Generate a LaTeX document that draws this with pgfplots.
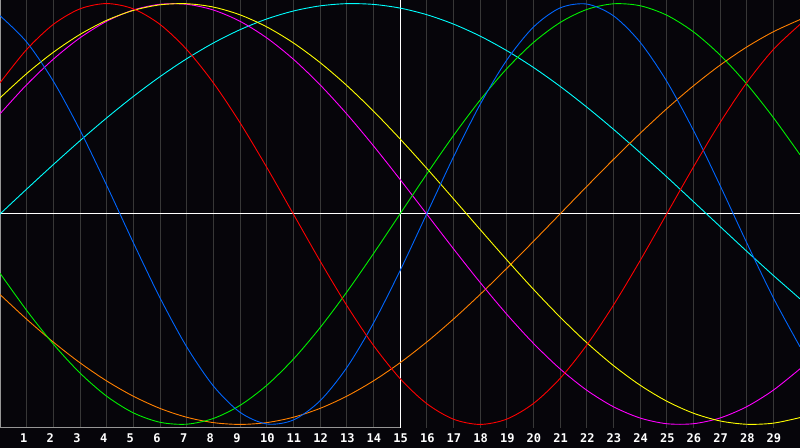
\documentclass[border=0pt]{standalone}
\usepackage{pgfplots}
\usepackage{pgfplotstable}
\pgfplotsset{compat=1.18}
\usepackage{fontspec}
\newfontfamily\labelfont{DejaVu Sans Mono}
\definecolor{bgc}{RGB}{6,5,10}
\definecolor{gridc}{RGB}{55,55,55}
\definecolor{borderc}{RGB}{150,150,150}
\definecolor{cred}{RGB}{255,0,0}
\definecolor{cblue}{RGB}{0,102,255}
\definecolor{cgreen}{RGB}{0,240,0}
\definecolor{ccyan}{RGB}{0,255,255}
\definecolor{cyel}{RGB}{255,255,0}
\definecolor{cmag}{RGB}{255,0,255}
\definecolor{corange}{RGB}{255,128,0}
\pgfplotstableread{
d   red      blue     green    mag      yel      ora      cyan
0   0.6235   0.9423  -0.2817   0.4759   0.5517  -0.3827   0
1   0.7818   0.8170  -0.4582   0.6142   0.6673  -0.5000   0.1183
2   0.9010   0.6311  -0.6182   0.7357   0.7686  -0.6088   0.2349
3   0.9749   0.3984  -0.7557   0.8372   0.8533  -0.7071   0.3482
4   1.0000   0.1362  -0.8660   0.9158   0.9204  -0.7934   0.4566
5   0.9749  -0.1362  -0.9450   0.9694   0.9675  -0.8660   0.5586
6   0.9010  -0.3984  -0.9898   0.9966   0.9940  -0.9239   0.6528
7   0.7818  -0.6311  -0.9989   0.9966   0.9993  -0.9659   0.7378
8   0.6235  -0.8170  -0.9718   0.9694   0.9834  -0.9914   0.8126
9   0.4339  -0.9423  -0.9096   0.9158   0.9465  -1.0000   0.8758
10  0.2225  -0.9977  -0.8146   0.8372   0.8894  -0.9914   0.9267
11  0       -0.9791  -0.6901   0.7357   0.8133  -0.9659   0.9646
12 -0.2225  -0.8879  -0.5406   0.6142   0.7199  -0.9239   0.9890
13 -0.4339  -0.7308  -0.3717   0.4759   0.6112  -0.8660   0.9996
14 -0.6235  -0.5196  -0.1893   0.3247   0.4894  -0.7934   0.9961
15 -0.7818  -0.2698   0        0.1646   0.3572  -0.7071   0.9786
16 -0.9010   0        0.1893   0        0.2174  -0.6088   0.9473
17 -0.9749   0.2698   0.3717  -0.1646   0.0730  -0.5000   0.9028
18 -1.0000   0.5196   0.5406  -0.3247  -0.0730  -0.3827   0.8457
19 -0.9749   0.7308   0.6901  -0.4759  -0.2174  -0.2588   0.7766
20 -0.9010   0.8879   0.8146  -0.6142  -0.3572  -0.1305   0.6967
21 -0.7818   0.9791   0.9096  -0.7357  -0.4894   0        0.6069
22 -0.6235   0.9977   0.9718  -0.8372  -0.6112   0.1305   0.5084
23 -0.4339   0.9423   0.9989  -0.9158  -0.7199   0.2588   0.4031
24 -0.2225   0.8170   0.9898  -0.9694  -0.8133   0.3827   0.2920
25  0        0.6311   0.9450  -0.9966  -0.8894   0.5000   0.1769
26  0.2225   0.3984   0.8660  -0.9966  -0.9465   0.6088   0.0592
27  0.4339   0.1362   0.7557  -0.9694  -0.9834   0.7071  -0.0592
28  0.6235  -0.1362   0.6182  -0.9158  -0.9993   0.7934  -0.1769
29  0.7818  -0.3984   0.4582  -0.8372  -0.9940   0.8660  -0.2920
30  0.9010  -0.6311   0.2817  -0.7357  -0.9675   0.9239  -0.4031
}\bio
\begin{document}
\begin{tikzpicture}
\fill[bgc] (0,0) rectangle (800bp,448bp);
\begin{axis}[
  at={(0bp,20bp)}, anchor=south west,
  scale only axis, width=800bp, height=428bp,
  xmin=0, xmax=30, ymin=-1.017, ymax=1.017,
  axis line style={draw=none},
  xtick={1,...,29}, ytick=\empty,
  xticklabels={1,2,3,4,5,6,7,8,9,10,11,12,13,14,15,16,17,18,19,20,21,22,23,24,25,26,27,28,29},
  major tick length=0pt,
  xmajorgrids, grid style={gridc, line width=0.8bp},
  xticklabel style={font=\labelfont\bfseries\fontsize{12bp}{14bp}\selectfont, text=white, anchor=base west, inner sep=0pt, xshift=-6.8bp, yshift=-14.6bp},
  clip=false,
  every axis plot/.append style={line width=0.9bp, smooth, no markers},
]
\draw[borderc, line width=1bp] (axis cs:15,-1.017) -- (axis cs:0,-1.017) -- (axis cs:0,1.017) -- (axis cs:30,1.017);
\draw[white, line width=1bp] (axis cs:15,-1.017) -- (axis cs:15,1.017);
\draw[white, line width=1bp] (axis cs:0,0) -- (axis cs:30,0);
\addplot[ccyan] table[x=d, y=cyan] {\bio};
\addplot[corange] table[x=d, y=ora] {\bio};
\addplot[cmag] table[x=d, y=mag] {\bio};
\addplot[cyel] table[x=d, y=yel] {\bio};
\addplot[cgreen] table[x=d, y=green] {\bio};
\addplot[cblue] table[x=d, y=blue] {\bio};
\addplot[cred] table[x=d, y=red] {\bio};
\end{axis}
\pgfresetboundingbox
\path (0,0) rectangle (800bp,448bp);
\end{tikzpicture}
\end{document}
